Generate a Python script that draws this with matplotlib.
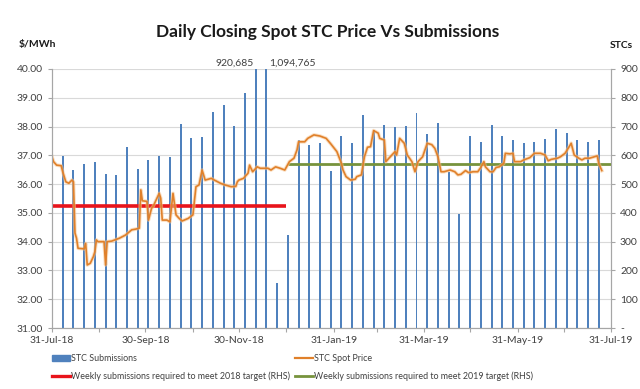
import matplotlib
matplotlib.use("Agg")
import matplotlib.pyplot as plt
import numpy as np
import pandas as pd
from matplotlib.patches import Patch
from matplotlib.lines import Line2D

plt.rcParams['font.family'] = ['Lato', 'DejaVu Sans']

# weekly STC submissions (thousands), one bar per week from 31-Jul-18
submissions = [595, 598, 549, 569, 578, 535, 532, 630, 551, 584, 599, 595,
               709, 659, 663, 752, 774, 702, 815, 920.685, 1094.765, 157, 323,
               652, 636, 642, 547, 668, 642, 740, 688, 706, 699, 702, 746, 673,
               713, 543, 396, 667, 647, 706, 667, 654, 644, 647, 658, 691, 677,
               654, 646, 654]

# daily closing spot price, day offsets from 31-Jul-18
price_days = [0, 1, 3, 6, 7, 9, 11, 13, 14, 15, 16, 17, 21, 22, 23, 25, 27, 28,
              29, 30, 34, 35, 36, 39, 44, 48, 52, 55, 57, 58, 59, 62, 63, 65, 66,
              70, 71, 72, 75, 77, 79, 81, 83, 85, 89, 92, 94, 96, 98, 99, 100,
              104, 106, 110, 113, 117, 120, 121, 122, 125, 128, 129, 131, 134,
              136, 141, 143, 146, 149, 152, 155, 158, 160, 161, 165, 167, 169,
              171, 175, 179, 182, 186, 189, 190, 192, 195, 198, 199, 202, 204,
              206, 208, 210, 213, 214, 217, 218, 220, 224, 225, 227, 230, 232,
              235, 237, 239, 242, 245, 248, 250, 252, 254, 256, 260, 263, 265,
              267, 270, 272, 275, 278, 280, 282, 283, 286, 288, 290, 292, 295,
              296, 299, 301, 302, 306, 308, 310, 312, 315, 319, 322, 324, 326,
              330, 332, 335, 337, 339, 341, 344, 346, 348, 351, 354, 356, 357,
              359]
price = [36.95, 36.78, 36.66, 36.64, 36.43, 36.08, 36.03, 36.14, 36.08, 34.3,
         34.12, 33.77, 33.75, 33.94, 33.19, 33.25, 33.48, 33.65, 34.06, 34.0,
         34.0, 33.19, 34.0, 34.02, 34.12, 34.23, 34.41, 34.44, 34.47, 35.8,
         35.42, 35.4, 34.75, 35.16, 35.22, 35.68, 35.51, 34.75, 34.75, 34.69,
         35.68, 34.93, 34.81, 34.72, 34.81, 34.93, 35.91, 35.97, 36.49, 36.32,
         36.14, 36.2, 36.14, 36.03, 35.97, 35.91, 35.92, 36.08, 36.14, 36.2,
         36.38, 36.66, 36.43, 36.6, 36.55, 36.55, 36.49, 36.6, 36.55, 36.49,
         36.78, 36.9, 37.19, 37.47, 37.47, 37.59, 37.65, 37.71, 37.67, 37.59,
         37.4, 37.13, 36.72, 36.49, 36.26, 36.14, 36.17, 36.26, 36.32, 36.95,
         37.28, 37.3, 37.86, 37.77, 37.59, 37.53, 36.78, 36.9, 37.13, 37.01,
         37.59, 37.42, 37.01, 36.78, 36.43, 36.78, 36.95, 37.42, 37.37, 37.24,
         36.95, 36.43, 36.43, 36.49, 36.43, 36.32, 36.34, 36.47, 36.40, 36.43,
         36.43, 36.58, 36.78, 36.6, 36.43, 36.43, 36.58, 36.6, 36.72, 37.07,
         37.05, 37.07, 36.78, 36.78, 36.84, 36.88, 36.92, 37.07, 37.07, 37.01,
         36.81, 36.86, 36.9, 36.95, 37.07, 37.24, 37.42, 37.01, 36.9, 36.84,
         36.9, 36.9, 36.95, 36.98, 36.72, 36.47]

# weekly submissions needed for targets (thousands)
target_2018 = 425
target_2018_span = ['2018-07-31', '2018-12-31']
target_2019 = 569
target_2019_span = ['2019-01-01', '2019-07-31']

start = pd.Timestamp('2018-07-31')
end = pd.Timestamp('2019-07-31')
bar_dates = pd.date_range(start, periods=len(submissions), freq='7D')
price_dates = start + pd.to_timedelta(price_days, unit='D')

blue = '#4F81BD'
orange = '#E0802A'
red = '#E8141B'
green = '#77933C'
grid = '#D9D9D9'
txt = '#404040'

fig = plt.figure(figsize=(6.4, 3.89), dpi=100)
ax2 = fig.add_axes([52/640, 1-328/389, 559/640, 259/389])
ax = ax2.twinx()
# price axis on the left, drawn above the bars
ax.yaxis.tick_left()
ax2.yaxis.tick_right()
ax.set_zorder(ax2.get_zorder() + 1)
ax.patch.set_visible(False)

ax2.bar(bar_dates, submissions, width=1.3, color=blue, zorder=2)
ax2.hlines(target_2018, pd.Timestamp(target_2018_span[0]), pd.Timestamp(target_2018_span[1]),
           color=red, lw=2.6, zorder=3)
ax2.hlines(target_2019, pd.Timestamp(target_2019_span[0]), pd.Timestamp(target_2019_span[1]),
           color=green, lw=2.0, zorder=3)
ax2.set_ylim(0, 900)
ax2.set_yticks(np.arange(0, 901, 100))
ax2.set_yticklabels(['-'] + [str(v) for v in range(100, 901, 100)])
ax2.grid(axis='y', color=grid, lw=0.8, zorder=0)
ax2.set_axisbelow(True)

ax.plot(price_dates, price, color='#F7C48F', lw=2.6, alpha=0.55, solid_joinstyle='round')
ax.plot(price_dates, price, color=orange, lw=1.2, solid_joinstyle='round')
ax.set_ylim(31, 40)
ax.set_yticks(np.arange(31, 40.01, 1))
ax.set_yticklabels(['%.2f' % v for v in np.arange(31, 40.01, 1)])

ax2.set_xlim(start, end)
month_ends = pd.date_range(start, end, freq='ME')
ax2.set_xticks(month_ends)
ax2.set_xticklabels([d.strftime('%d-%b-%y') if i % 2 == 0 else '' for i, d in enumerate(month_ends)])

for a in (ax, ax2):
    for s in a.spines.values():
        s.set_color('#A6A6A6')
        s.set_linewidth(0.8)
    a.spines['top'].set_visible(False)
    a.tick_params(colors='#A6A6A6', labelcolor=txt, labelsize=7.5, length=3, width=0.8)
ax2.tick_params(axis='x', pad=3)

# labels for the clipped bars
ax2.text(bar_dates[19] - pd.Timedelta(days=1.5), 905, '{:,}'.format(round(submissions[19] * 1000)),
         ha='right', va='bottom', fontsize=7.5, color=txt)
ax2.text(bar_dates[20] + pd.Timedelta(days=1.5), 905, '{:,}'.format(round(submissions[20] * 1000)),
         ha='left', va='bottom', fontsize=7.5, color=txt)

fig.text(328/640, 1-32/389, 'Daily Closing Spot STC Price Vs Submissions',
         ha='center', va='center', fontsize=12.5, fontweight='bold', color='#1a1a1a')
fig.text(37/640, 1-45/389, '$/MWh', ha='center', va='center', fontsize=7.5,
         fontweight='bold', color='#1a1a1a')
fig.text(621/640, 1-45/389, 'STCs', ha='center', va='center', fontsize=7.5,
         fontweight='bold', color='#1a1a1a')

handles = [Patch(color=blue),
           Line2D([], [], color=red, lw=2.4),
           Line2D([], [], color=orange, lw=1.6),
           Line2D([], [], color=green, lw=2.0)]
labels = ['STC Submissions',
          'Weekly submissions required to meet 2018 target (RHS)',
          'STC Spot Price',
          'Weekly submissions required to meet 2019 target (RHS)']
fig.legend(handles, labels, loc='upper left', bbox_to_anchor=(44/640, 1-346/389),
           ncol=2, frameon=False, fontsize=6.4, handlelength=2.0, handletextpad=0.1,
           columnspacing=0.6, labelspacing=0.95, handleheight=0.75, labelcolor=txt)

fig.savefig('out.png', dpi=100)
